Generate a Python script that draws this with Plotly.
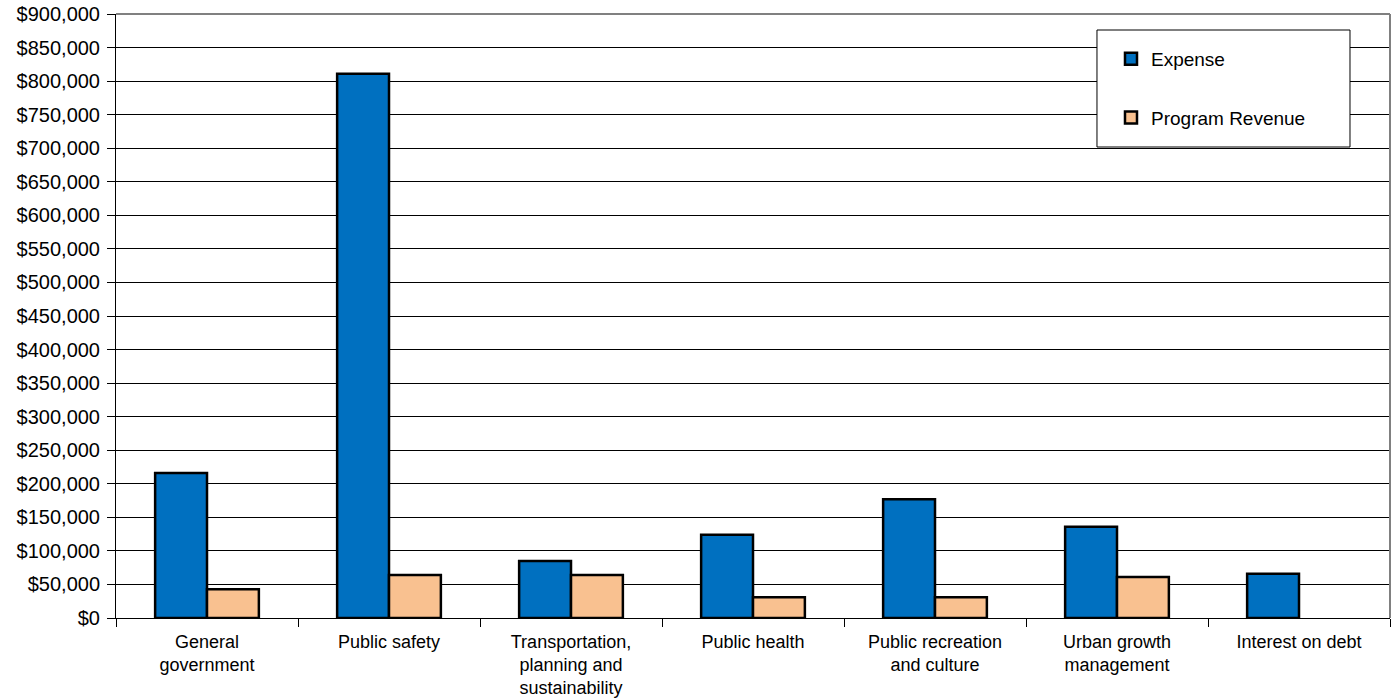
import plotly.graph_objects as go

categories = [
    "General<br>government",
    "Public safety",
    "Transportation,<br>planning and<br>sustainability",
    "Public health",
    "Public recreation<br>and culture",
    "Urban growth<br>management",
    "Interest on debt",
]
expense = [216000, 811000, 85000, 124000, 177000, 136000, 66000]
program_revenue = [43000, 64000, 64000, 31000, 31000, 61000, None]

FONT = "Liberation Sans, Arial, sans-serif"

fig = go.Figure()
fig.add_trace(go.Bar(
    x=categories, y=expense, name="Expense", legendgroup="a",
    marker=dict(color="#0070C0", line=dict(color="black", width=2.5)),
))
fig.add_trace(go.Bar(
    x=categories, y=program_revenue, name="Program Revenue", legendgroup="b",
    marker=dict(color="#F9C190", line=dict(color="black", width=2.5)),
))

fig.update_layout(
    width=1397, height=700,
    margin=dict(l=116, r=7, t=14, b=82, autoexpand=False),
    paper_bgcolor="white", plot_bgcolor="white",
    font=dict(family=FONT, size=20, color="black"),
    barmode="group", bargap=0.43, bargroupgap=0,
    showlegend=True,
    legend=dict(
        x=0.781, y=0.957, xanchor="left", yanchor="top",
        borderwidth=0, bgcolor="rgba(0,0,0,0)",
        font=dict(family=FONT, size=19),
        tracegroupgap=31, traceorder="grouped",
        itemwidth=30,
    ),
    xaxis=dict(
        showline=True, linecolor="black", linewidth=1,
        ticks="outside", tickson="boundaries", ticklen=8, tickcolor="black",
        showgrid=False, tickangle=0, ticklabelstandoff=7,
        tickfont=dict(family=FONT, size=18),
    ),
    yaxis=dict(
        range=[0, 900000], dtick=50000, tickprefix="$", tickformat=",d",
        showline=True, linecolor="black", linewidth=1,
        ticks="outside", ticklen=8, tickcolor="black",
        showgrid=True, gridcolor="black", gridwidth=1,
        zeroline=False, ticklabelstandoff=3,
    ),
    shapes=[
        dict(type="line", xref="paper", yref="paper", x0=0, x1=1, y0=1, y1=1,
             line=dict(color="#808080", width=2)),
        dict(type="line", xref="paper", yref="paper", x0=1, x1=1, y0=0, y1=1,
             line=dict(color="#808080", width=2)),
        dict(type="rect", xref="paper", yref="paper", x0=0.770, x1=0.9686,
             y0=0.7798, y1=0.9735, fillcolor="white",
             line=dict(color="black", width=1), layer="above"),
    ],
)

fig.write_html("out.html")
